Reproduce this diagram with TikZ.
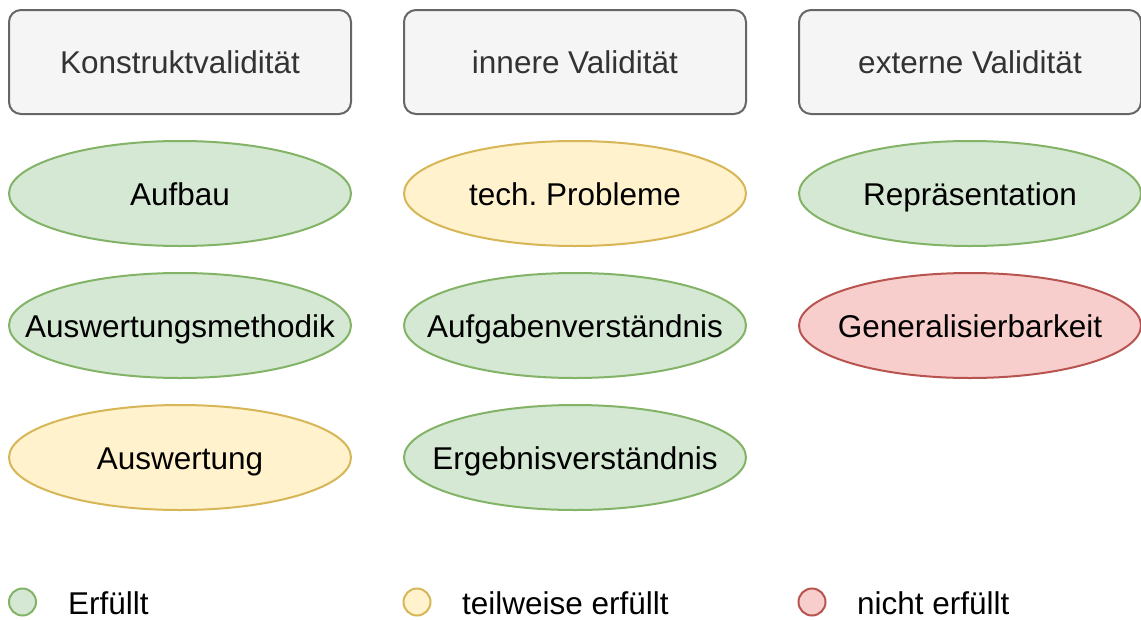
\documentclass[tikz,border=0pt]{standalone}
\usepackage{fontspec}
\setmainfont{Liberation Sans}
\usepackage{tikz}
\usetikzlibrary{shapes.geometric}
\definecolor{boxFill}{HTML}{F5F5F5}
\definecolor{boxLine}{HTML}{666666}
\definecolor{boxText}{HTML}{333333}
\definecolor{okFill}{HTML}{D5E8D4}
\definecolor{okLine}{HTML}{82B366}
\definecolor{partFill}{HTML}{FFF2CC}
\definecolor{partLine}{HTML}{D6B656}
\definecolor{failFill}{HTML}{F8CECC}
\definecolor{failLine}{HTML}{B85450}
\newcommand{\etikett}[1]{\makebox[0pt]{#1}}
\tikzset{
  kategorie/.style={draw=boxLine, fill=boxFill, text=boxText, line width=2pt,
    rounded corners=12pt, minimum width=342pt, minimum height=104pt, inner sep=0pt,
    text height=23pt, text depth=0pt, font=\fontsize{31.5}{36}\selectfont},
  kriterium/.style={ellipse, line width=2pt, minimum width=342pt, minimum height=105pt,
    inner sep=0pt, text height=23pt, text depth=0pt, font=\fontsize{31.5}{36}\selectfont},
  erfuellt/.style={kriterium, draw=okLine, fill=okFill},
  teilweise/.style={kriterium, draw=partLine, fill=partFill},
  nicht/.style={kriterium, draw=failLine, fill=failFill},
  punkt/.style={circle, line width=2pt, minimum size=27pt, inner sep=0pt},
  legende/.style={anchor=west, inner sep=0pt, text height=23pt, text depth=0pt,
    font=\fontsize{31.5}{36}\selectfont}
}
\begin{document}
\begin{tikzpicture}[x=1pt, y=-1pt]
  \useasboundingbox (0,0) rectangle (1141,619);

  % Kopfzeile
  \node[kategorie] (konstrukt) at (180,62) {Konstruktvalidität};
  \node[kategorie] (innere) at (575,62) {innere Validität};
  \node[kategorie] (externe) at (970,62) {externe Validität};

  % Konstruktvaliditaet
  \node[erfuellt] (aufbau) at (180,193.5) {\etikett{Aufbau}};
  \node[erfuellt] (methodik) at (180,325.5) {\etikett{Auswertungsmethodik}};
  \node[teilweise] (auswertung) at (180,457.5) {\etikett{Auswertung}};

  % innere Validitaet
  \node[teilweise] (probleme) at (575,193.5) {\etikett{tech.\ Probleme}};
  \node[erfuellt] (aufgaben) at (575,325.5) {\etikett{Aufgabenverständnis}};
  \node[erfuellt] (ergebnis) at (575,457.5) {\etikett{Ergebnisverständnis}};

  % externe Validitaet
  \node[erfuellt] (repraesentation) at (970,193.5) {\etikett{Repräsentation}};
  \node[nicht] (general) at (970,325.5) {\etikett{Generalisierbarkeit}};

  % Legende
  \node[punkt, draw=okLine, fill=okFill] (dotOk) at (22.5,602) {};
  \node[legende] (txtOk) at (68,603) {Erfüllt};
  \node[punkt, draw=partLine, fill=partFill] (dotPart) at (417,602) {};
  \node[legende] (txtPart) at (462,603) {teilweise erfüllt};
  \node[punkt, draw=failLine, fill=failFill] (dotFail) at (812,602) {};
  \node[legende] (txtFail) at (857,603) {nicht erfüllt};
\end{tikzpicture}
\end{document}
